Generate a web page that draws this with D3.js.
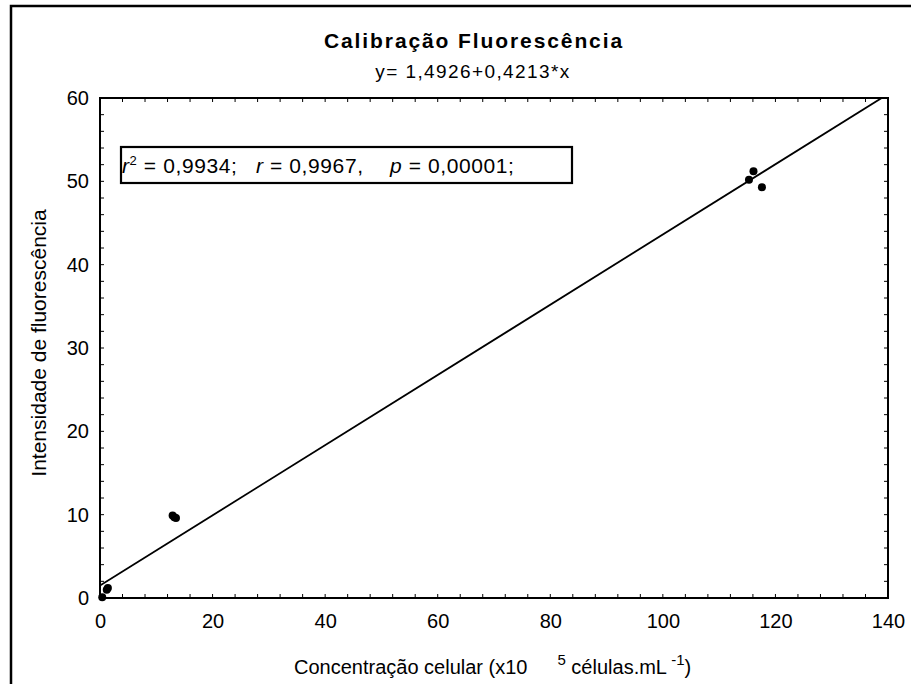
<!DOCTYPE html>
<html>
<head>
<meta charset="utf-8">
<script src="https://cdn.jsdelivr.net/npm/d3@7"></script>
<style>
  html, body { margin: 0; padding: 0; background: #fff; }
  svg { display: block; font-family: "Liberation Sans", Arial, sans-serif; }
</style>
</head>
<body>
<svg id="chart" width="911" height="684"></svg>
<script>
// Calibration data: cell concentration (x10^5 cells/mL) vs fluorescence intensity
const concentration = [0.4, 1.2, 1.4, 12.9, 13.2, 13.5, 115.3, 116.1, 117.6];
const fluorescence  = [0.1, 1.0, 1.2, 9.9, 9.7, 9.6, 50.2, 51.2, 49.3];

// Fitted line y = a + b*x
const intercept = 1.4926;
const slope = 0.4213;

const xTicks = [0, 20, 40, 60, 80, 100, 120, 140];
const yTicks = [0, 10, 20, 30, 40, 50, 60];

const svg = d3.select("#chart");
const plot = { left: 100, right: 888, top: 98, bottom: 598 };

const x = d3.scaleLinear().domain([0, 140]).range([plot.left, plot.right]);
const y = d3.scaleLinear().domain([0, 60]).range([plot.bottom, plot.top]);

// Outer frame (extends past the page edge)
svg.append("rect")
  .attr("x", 11).attr("y", 6).attr("width", 1200).attr("height", 1200)
  .attr("fill", "none").attr("stroke", "#000").attr("stroke-width", 2.5);

// Titles
svg.append("text")
  .attr("x", 474).attr("y", 48)
  .attr("text-anchor", "middle")
  .attr("font-size", 21).attr("font-weight", "bold")
  .attr("letter-spacing", 1.9)
  .text("Calibração Fluorescência");
svg.append("text")
  .attr("x", 473).attr("y", 78)
  .attr("text-anchor", "middle")
  .attr("font-size", 19)
  .attr("letter-spacing", 1.4)
  .text("y= 1,4926+0,4213*x");

// Clip for fitted line
svg.append("clipPath").attr("id", "plotclip")
  .append("rect")
  .attr("x", plot.left).attr("y", plot.top)
  .attr("width", plot.right - plot.left).attr("height", plot.bottom - plot.top);

// Minor inward ticks on all four sides
const xMinor = d3.range(0, 141, 4);
const yMinor = d3.range(0, 61, 2);
const tickLen = 4;
const g = svg.append("g").attr("stroke", "#000").attr("stroke-width", 1);
xMinor.forEach(v => {
  g.append("line").attr("x1", x(v)).attr("x2", x(v)).attr("y1", plot.bottom).attr("y2", plot.bottom - tickLen);
  g.append("line").attr("x1", x(v)).attr("x2", x(v)).attr("y1", plot.top).attr("y2", plot.top + tickLen);
});
yMinor.forEach(v => {
  g.append("line").attr("y1", y(v)).attr("y2", y(v)).attr("x1", plot.left).attr("x2", plot.left + tickLen);
  g.append("line").attr("y1", y(v)).attr("y2", y(v)).attr("x1", plot.right).attr("x2", plot.right - tickLen);
});

// Axes: tick labels via d3 axes (tick lines hidden, drawn above)
const xAxis = svg.append("g")
  .attr("transform", `translate(0,${plot.bottom})`)
  .call(d3.axisBottom(x).tickValues(xTicks).tickSize(0).tickPadding(16).tickFormat(d3.format("d")));
const yAxis = svg.append("g")
  .attr("transform", `translate(${plot.left},0)`)
  .call(d3.axisLeft(y).tickValues(yTicks).tickSize(0).tickPadding(11).tickFormat(d3.format("d")));
[xAxis, yAxis].forEach(a => {
  a.select(".domain").remove();
  a.selectAll("text").attr("font-size", 20).attr("font-family", "Liberation Sans, Arial, sans-serif").attr("fill", "#000");
});

// Fitted regression line
svg.append("line")
  .attr("clip-path", "url(#plotclip)")
  .attr("x1", x(0)).attr("y1", y(intercept))
  .attr("x2", x(140)).attr("y2", y(intercept + slope * 140))
  .attr("stroke", "#000").attr("stroke-width", 1.8);

// Data points
svg.append("g").selectAll("circle")
  .data(concentration.map((c, i) => [c, fluorescence[i]]))
  .join("circle")
  .attr("cx", d => x(d[0])).attr("cy", d => y(d[1]))
  .attr("r", 4).attr("fill", "#000");

// Plot frame
svg.append("rect")
  .attr("x", plot.left).attr("y", plot.top)
  .attr("width", plot.right - plot.left).attr("height", plot.bottom - plot.top)
  .attr("fill", "none").attr("stroke", "#000").attr("stroke-width", 2);

// Statistics box: three segments, each placed at its own x
svg.append("rect")
  .attr("x", 121).attr("y", 147).attr("width", 451).attr("height", 36)
  .attr("fill", "#fff").attr("stroke", "#000").attr("stroke-width", 2.2);
const statSegments = [
  { x: 122, sym: "r", sup: "2", rest: " = 0,9934;" },
  { x: 256, sym: "r", sup: null, rest: " = 0,9967," },
  { x: 390, sym: "p", sup: null, rest: " = 0,00001;" }
];
statSegments.forEach(s => {
  const t = svg.append("text").attr("x", s.x).attr("y", 173)
    .attr("font-size", 21).attr("letter-spacing", 0.6);
  t.append("tspan").attr("font-style", "italic").text(s.sym);
  if (s.sup) {
    t.append("tspan").attr("font-size", 13).attr("dy", -8).text(s.sup);
    t.append("tspan").attr("dy", 8).text(s.rest);
  } else {
    t.append("tspan").text(s.rest);
  }
});

// Axis titles
const xl = svg.append("text").attr("x", 294).attr("y", 674).attr("font-size", 20);
xl.append("tspan").text("Concentração celular (x10");
xl.append("tspan").attr("font-size", 15).attr("dx", 30).attr("dy", -9).text("5");
xl.append("tspan").attr("dy", 9).text(" células.mL");
xl.append("tspan").attr("font-size", 15).attr("dy", -9).text(" -1");
xl.append("tspan").attr("dy", 9).text(")");

svg.append("text")
  .attr("transform", "translate(46,343) rotate(-90)")
  .attr("text-anchor", "middle")
  .attr("font-size", 21)
  .text("Intensidade de fluorescência");
</script>
</body>
</html>
